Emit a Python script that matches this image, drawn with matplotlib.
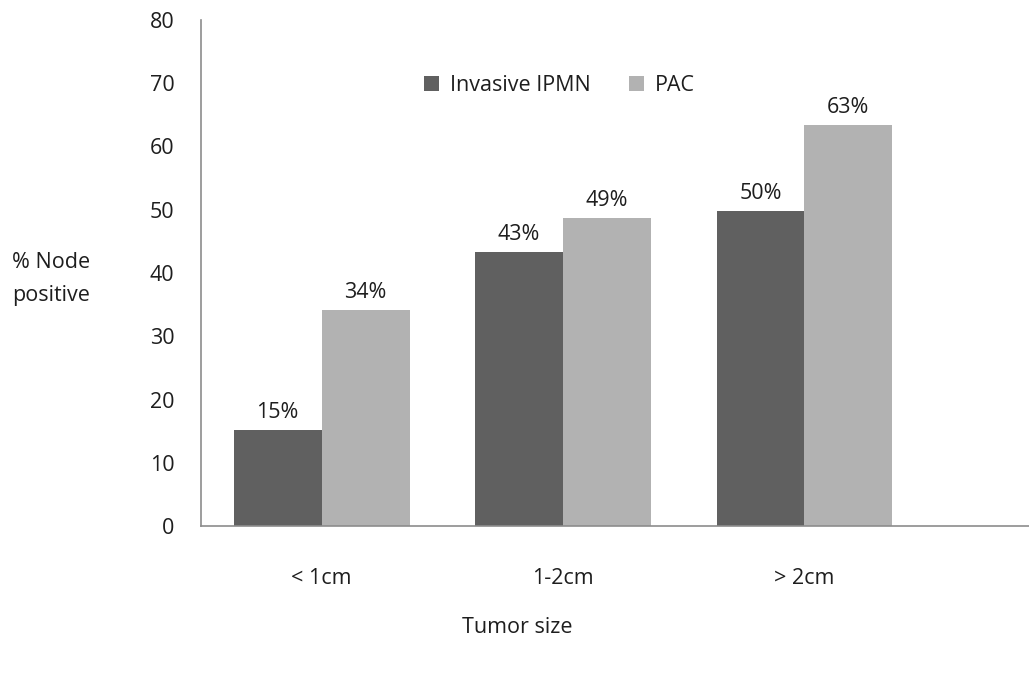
import numpy as np
import matplotlib.pyplot as plt

plt.rcParams['font.family'] = ['Open Sans', 'DejaVu Sans']

categories = ['< 1cm', '1-2cm', '> 2cm']
ipmn = [15.2, 43.3, 49.8]
pac = [34.2, 48.7, 63.4]
series_names = ['Invasive IPMN', 'PAC']

fs = 15.5
txt = '#1e1e1e'

fig = plt.figure(figsize=(10.29, 6.73), dpi=100)
ax = fig.add_axes([0.1953, 0.2184, 0.8047, 0.7519])

x = np.arange(len(categories))
w = 0.364
b1 = ax.bar(x - w/2, ipmn, w, color='#606060', label=series_names[0])
b2 = ax.bar(x + w/2, pac, w, color='#b2b2b2', label=series_names[1])

# value labels above each bar
for bars, vals in [(b1, ipmn), (b2, pac)]:
    for r, v in zip(bars, vals):
        ax.annotate('%d%%' % round(v), (r.get_x() + r.get_width()/2, v),
                    xytext=(0, 5), textcoords='offset points',
                    ha='center', va='bottom', fontsize=fs, color=txt)

ax.set_xlim(-0.5, 2.93)
ax.set_ylim(0, 80)
ax.set_yticks(range(0, 81, 10))
ax.set_xticks(x)
ax.set_xticklabels(categories)
ax.tick_params(length=0, labelsize=fs, colors=txt)
ax.tick_params(axis='y', pad=19)
ax.tick_params(axis='x', pad=30)
for s in ['top', 'right']:
    ax.spines[s].set_visible(False)
for s in ['left', 'bottom']:
    ax.spines[s].set_color('#8c8c8c')
    ax.spines[s].set_linewidth(1.2)

fig.text(0.012, 0.585, '% Node\npositive', fontsize=fs, ha='left', va='center',
         linespacing=1.75, color=txt)
fig.text(0.503, 0.067, 'Tumor size', fontsize=fs, ha='center', va='center',
         color=txt)

ax.legend(loc='center', bbox_to_anchor=(0.433, 0.87), ncol=2, frameon=False,
          fontsize=fs, handlelength=0.7, handleheight=0.7, handletextpad=0.5,
          columnspacing=1.8, labelcolor=txt)

fig.savefig('out.png', dpi=100)
